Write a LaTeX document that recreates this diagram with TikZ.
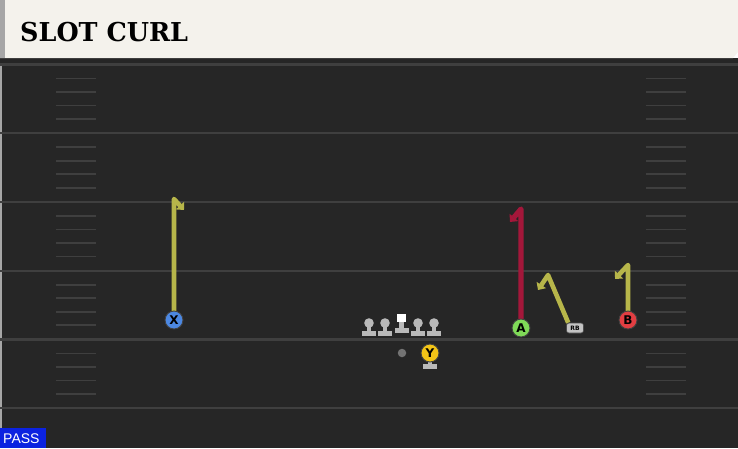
\documentclass[tikz,border=0pt]{standalone}
\usepackage{fontspec}
\setmainfont{DejaVu Sans}
\newfontfamily\titlefont{DejaVu Serif}
\newfontfamily\passfont{Liberation Sans}
\usetikzlibrary{arrows.meta}
\definecolor{fieldgray}{HTML}{262626}
\definecolor{linegray}{HTML}{3F3F3F}
\definecolor{headbeige}{HTML}{F4F2EC}
\definecolor{routeolive}{HTML}{B7B64A}
\definecolor{routered}{HTML}{A3173A}
\definecolor{xblue}{HTML}{4C88E2}
\definecolor{agreen}{HTML}{7FD958}
\definecolor{bred}{HTML}{E23E42}
\definecolor{yyellow}{HTML}{F2C417}
\definecolor{tokengray}{HTML}{B9B9B9}
\definecolor{passblue}{HTML}{0B22E0}
\begin{document}
\begin{tikzpicture}[x=1pt,y=-1pt]
        \tikzset{
          player/.style={circle,draw=black!75,line width=0.9pt,inner sep=0pt,
            minimum size=18pt,font=\fontsize{12}{12}\selectfont\bfseries},
          route/.style={line width=4.6pt,line join=round,
            -{Triangle[width=11pt,length=6pt]}},
          pics/lineman/.style args={#1}{code={
            \fill[tokengray] (-7,-5) rectangle (7,0);
            \fill[tokengray] (-2.4,-12) rectangle (2.4,-5);
            \fill[#1] (0,-13) circle (4.8);
            },
          },
          pics/center/.style={code={
            \fill[tokengray] (-7,-5) rectangle (7,0);
            \fill[tokengray] (-2.4,-12) rectangle (2.4,-5);
            \fill[white] (-4.5,-19) rectangle (4.5,-11);
            },
          }
        }
        \useasboundingbox (0,0) rectangle (738,448);
        %FIELD
        \fill[fieldgray] (0,58) rectangle (738,448);
        \fill[black!35] (0,58) rectangle (2,448);
        \fill[black!85] (0,58) rectangle (738,63);
        %YARD LINES AND HASHES
        \foreach \yl in {64.5,133.25,202,270.75,339.5,408.25} {
          \draw[linegray,line width=2.2pt] (0,\yl) -- (738,\yl);
        }
        \foreach \yl in {64.5,133.25,202,270.75,339.5} {
          \foreach \dy in {14,27.5,41,54.5} {
            \draw[linegray,line width=1.8pt] (56,\yl+\dy) -- (96,\yl+\dy);
            \draw[linegray,line width=1.8pt] (646,\yl+\dy) -- (686,\yl+\dy);
          }
        }
        %HEADER
        \fill[headbeige] (0,0) -- (738,0) -- (738,52) -- (733,58) -- (0,58) -- cycle;
        \fill[black!35] (0,0) rectangle (5,58);
        \node[anchor=west,inner sep=0pt,xscale=0.98] (title) at (20,32)
          {\titlefont\fontsize{26}{26}\selectfont\bfseries SLOT CURL};
        %LINE
        \foreach \xl in {369,385,418,434} {
          \pic at (\xl,336) {lineman={tokengray}};
        }
        \pic at (401.5,333) {center};
        \fill[tokengray] (423,364) rectangle (437,369);
        \fill[tokengray] (428,358) rectangle (432,364);
        \node[circle,fill=black!55,minimum size=8.5pt,inner sep=0pt] (qb) at (402,353) {};
        %ROUTES
        \coordinate (xtop) at (174,199);
        \coordinate (xend) at (184,210);
        \coordinate (atop) at (521,209);
        \coordinate (aend) at (510,222);
        \coordinate (rbtop) at (548,275);
        \coordinate (rbend) at (538,290);
        \coordinate (btop) at (628,265);
        \coordinate (bend) at (615,279);
        \node[draw=black!70,fill=tokengray!85,rounded corners=2.5pt,line width=0.6pt,
          minimum width=17pt,minimum height=10pt,inner sep=0pt,
          font=\fontsize{6}{6}\selectfont\bfseries] (RB) at (575,328) {RB};
        \draw[route,routeolive] (174,312) -- (xtop) -- (xend);
        \draw[route,routered,line width=5.2pt] (521,320) -- (atop) -- (aend);
        \draw[route,routeolive] (RB.north west) ++(2,0) -- (rbtop) -- (rbend);
        \draw[route,routeolive] (628,312) -- (btop) -- (bend);
        %PLAYERS
        \node[player,fill=xblue] (X) at (174,320) {X};
        \node[player,fill=agreen] (A) at (521,328) {A};
        \node[player,fill=bred] (B) at (628,320) {B};
        \node[player,fill=yyellow] (Y) at (430,353) {Y};
        %PLAY TYPE
        \fill[passblue] (0,428) rectangle (46,448);
        \node[white,anchor=west,inner sep=0pt] (pass) at (3,439)
          {\passfont\fontsize{14}{14}\selectfont PASS};
    \end{tikzpicture}
\end{document}
